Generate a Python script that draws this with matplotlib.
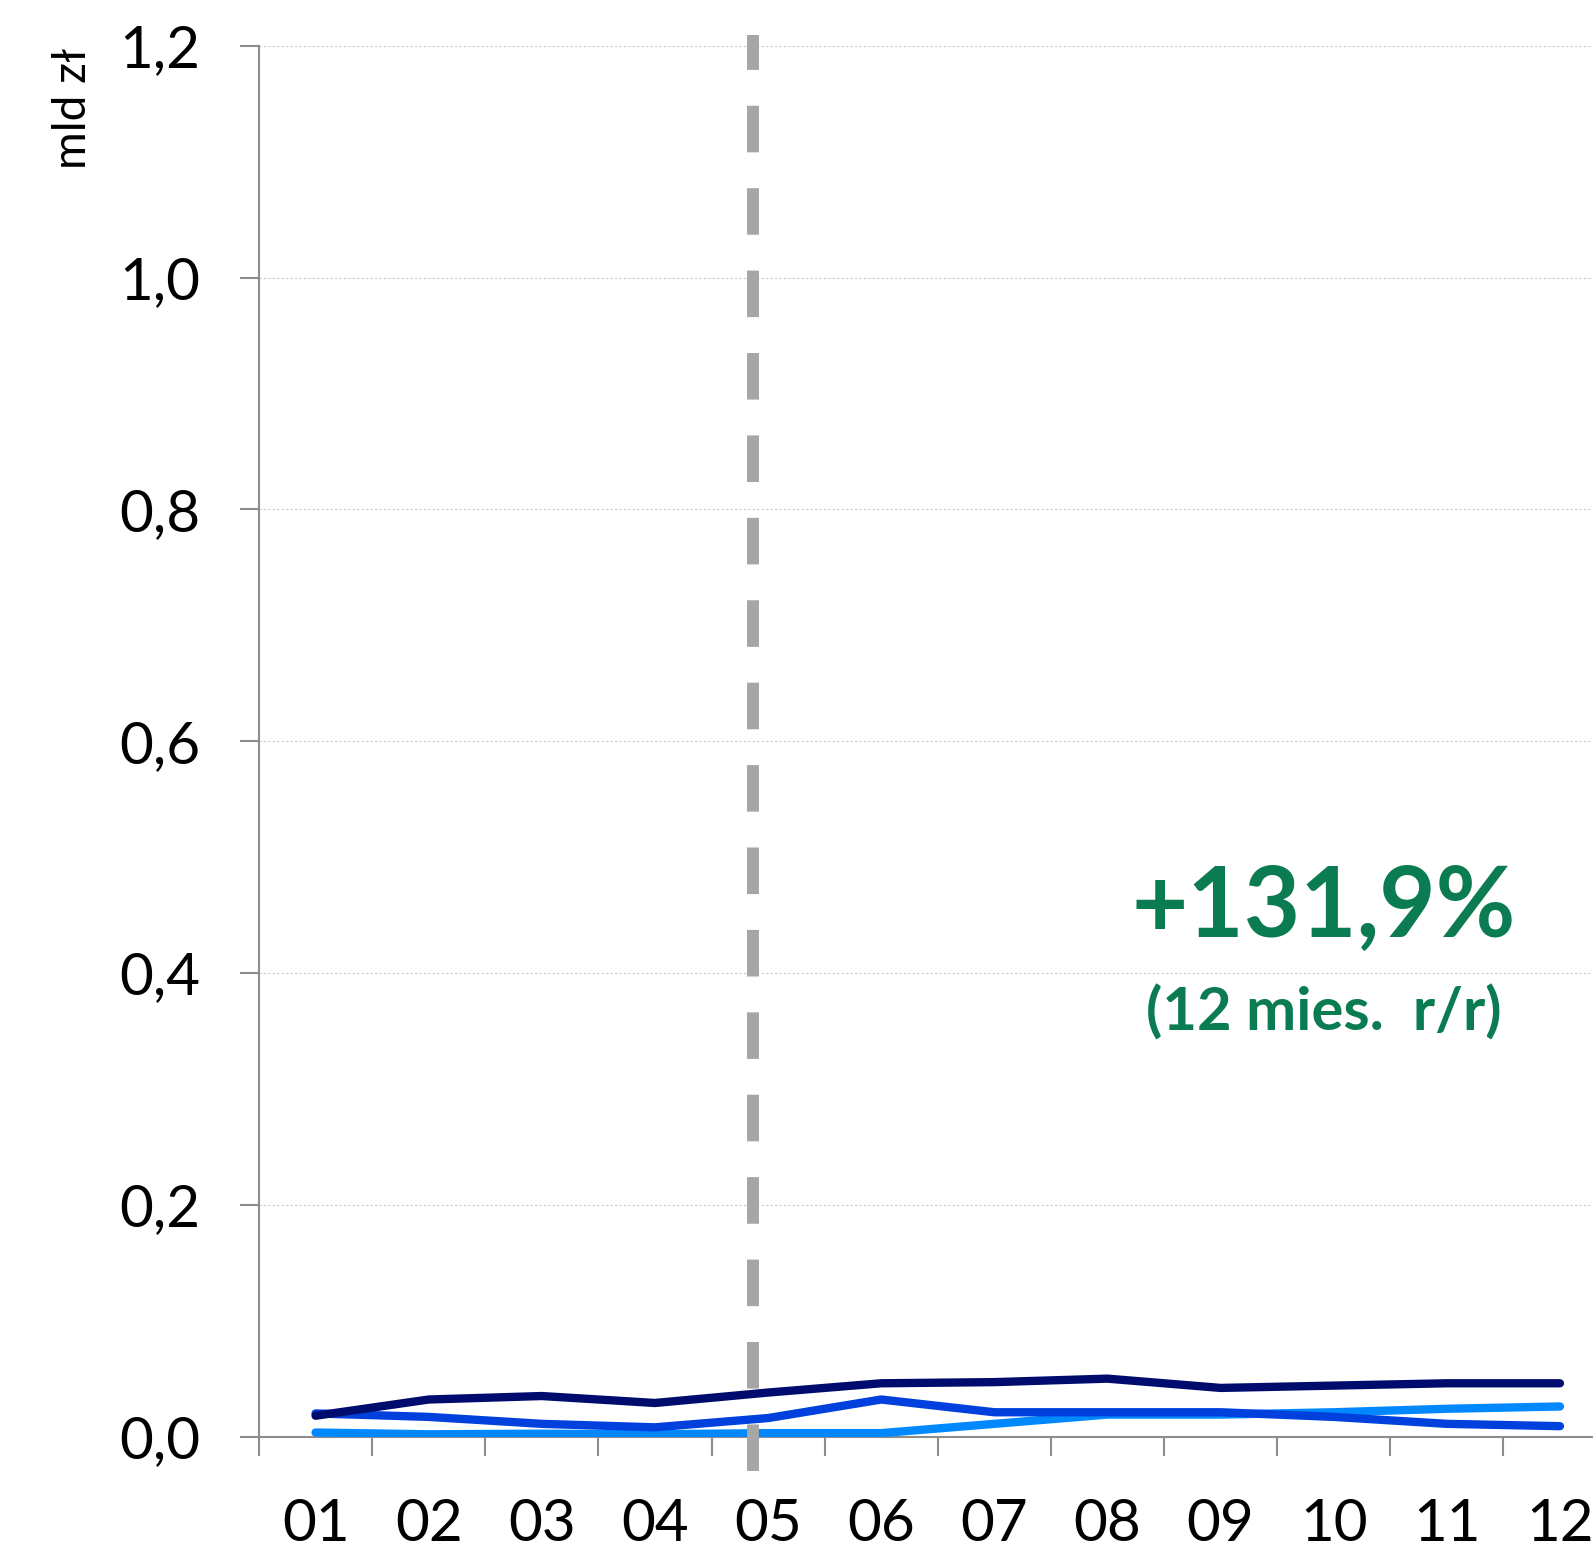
import matplotlib
matplotlib.use("Agg")
import matplotlib.pyplot as plt
from matplotlib.ticker import FixedLocator, FuncFormatter

plt.rcParams['font.family'] = ['Lato', 'DejaVu Sans']

months = ["01", "02", "03", "04", "05", "06", "07", "08", "09", "10", "11", "12"]
series_navy = [0.018, 0.032, 0.035, 0.029, 0.038, 0.046, 0.047, 0.050, 0.042, 0.044, 0.046, 0.046]
series_blue = [0.020, 0.017, 0.011, 0.008, 0.016, 0.032, 0.021, 0.021, 0.021, 0.017, 0.011, 0.009]
series_light = [0.0035, 0.002, 0.0025, 0.002, 0.003, 0.003, 0.011, 0.019, 0.019, 0.021, 0.024, 0.026]
y_ticks = [0.0, 0.2, 0.4, 0.6, 0.8, 1.0, 1.2]
marker_pos = 3.87
annot_main = "+131,9%"
annot_sub = "(12 mies.  r/r)"
ylabel = "mld zł"

W, H = 1593, 1548
fig = plt.figure(figsize=(W / 100, H / 100), dpi=100)
left = 259 / W
bottom = (H - 1436.6) / H
top = (H - 45.7) / H
right = 1616.5 / W
ax = fig.add_axes([left, bottom, right - left, top - bottom])

x = list(range(len(months)))
ax.plot(x, series_navy, color="#000B6E", lw=6, solid_capstyle="round", zorder=4)
ax.plot(x, series_light, color="#0088FF", lw=6, solid_capstyle="round", zorder=3)
ax.plot(x, series_blue, color="#0040DD", lw=6, solid_capstyle="round", zorder=3.5)

ax.set_xlim(-0.5, len(months) - 0.5)
ax.set_ylim(0, 1.2)

# dashed vertical marker
ax.plot([marker_pos, marker_pos], [-0.03, 1.209], color="#A6A6A6", lw=8.6,
        dashes=(3.9, 3.0), solid_capstyle="butt", dash_capstyle="butt",
        clip_on=False, zorder=5)

for s in ["top", "right"]:
    ax.spines[s].set_visible(False)
for s in ["left", "bottom"]:
    ax.spines[s].set_color("#8C8C8C")
    ax.spines[s].set_linewidth(1.5)

ax.yaxis.set_major_locator(FixedLocator(y_ticks))
ax.yaxis.set_major_formatter(FuncFormatter(lambda v, p: f"{v:.1f}".replace(".", ",")))
ax.tick_params(axis="y", length=14, width=1.5, color="#8C8C8C", labelsize=42, pad=28)
ax.grid(axis="y", color="#C8C8C8", linestyle=(0, (2, 2)), linewidth=0.8)
ax.set_axisbelow(True)

ax.set_xticks(x)
ax.set_xticklabels(months)
ax.set_xticks([i - 0.5 for i in range(len(months) + 1)], minor=True)
ax.tick_params(axis="x", which="major", length=0, labelsize=42, pad=44)
ax.tick_params(axis="x", which="minor", length=14, width=1.5, color="#8C8C8C")

fig.text(73 / W, 1 - 108 / H, ylabel, rotation=90, fontsize=33, ha="center", va="center")

ax.text(0.831, 0.413, annot_main, transform=fig.transFigure, color="#0B7B52",
        fontsize=70, fontweight="bold", ha="center", va="center")
ax.text(0.831, 0.346, annot_sub, transform=fig.transFigure, color="#0B7B52",
        fontsize=43, fontweight="bold", ha="center", va="center")

fig.savefig("out.png", dpi=100)
